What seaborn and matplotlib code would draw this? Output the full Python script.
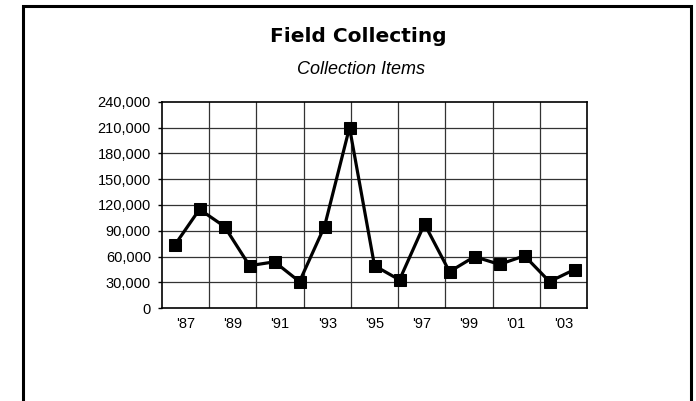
import numpy as np
import matplotlib
matplotlib.use("Agg")
import matplotlib.pyplot as plt
import seaborn as sns
from matplotlib.patches import Rectangle
from matplotlib.ticker import FuncFormatter

years = ["'87", "'88", "'89", "'90", "'91", "'92", "'93", "'94", "'95",
         "'96", "'97", "'98", "'99", "'00", "'01", "'02", "'03"]
items = [73000, 115000, 95000, 49500, 54000, 31000, 95000, 210000, 49500,
         33000, 98000, 42500, 60000, 51000, 61000, 31000, 45000]
tick_labels = years[::2]
y_ticks = list(range(0, 240001, 30000))

sns.set_theme(style="white")
plt.rcParams['font.family'] = ['Liberation Sans', 'DejaVu Sans']
plt.rcParams['text.color'] = 'black'

fig = plt.figure(figsize=(6.96, 4.01), dpi=100)
ax = fig.add_axes([162 / 696, 1 - 308.3 / 401, 425 / 696, 206.6 / 401])

x = np.arange(len(years))
sns.lineplot(x=x, y=items, ax=ax, color="black", linewidth=2.3,
             marker="s", markersize=8, markeredgecolor="black",
             markerfacecolor="black", zorder=3)

n = len(years)
ax.set_xlim(-0.5, n - 0.5)
ax.set_ylim(0, 240000)
ncols = len(tick_labels)
colw = n / ncols
grid_x = [-0.5 + colw * k for k in range(1, ncols)]
for gx in grid_x:
    ax.axvline(gx, color="#333333", linewidth=0.9, zorder=1)
ax.set_yticks(y_ticks)
for gy in y_ticks[1:-1]:
    ax.axhline(gy, color="#333333", linewidth=0.9, zorder=1)
ax.yaxis.set_major_formatter(FuncFormatter(lambda v, p: f"{int(v):,}"))
ax.set_xticks([-0.5 + colw * (k + 0.5) for k in range(ncols)])
ax.set_xticklabels(tick_labels)
ax.tick_params(axis="y", length=3, width=1, color="black", pad=5,
               labelsize=10.5, labelcolor="black", left=True)
ax.tick_params(axis="x", length=0, pad=6, labelsize=10.5, labelcolor="black")
for s in ax.spines.values():
    s.set_color("black")
    s.set_linewidth(1.2)
ax.set_xlabel("")
ax.set_ylabel("")

fig.text(358 / 696, 1 - 37 / 401, "Field Collecting", ha="center", va="center",
         fontsize=14.5, fontweight="heavy", color="black", family=["DejaVu Sans"])
fig.text(361 / 696, 1 - 69 / 401, "Collection Items", ha="center", va="center",
         fontsize=13, style="italic", color="black",
         family=["Liberation Sans", "DejaVu Sans"])

fig.patches.append(Rectangle((22.5 / 696, -0.1), (690.5 - 22.5) / 696, 1 - 6 / 401 + 0.1,
                             transform=fig.transFigure, fill=False,
                             edgecolor="black", linewidth=2.2, clip_on=False))

fig.savefig("out.png", dpi=100, facecolor="white")
